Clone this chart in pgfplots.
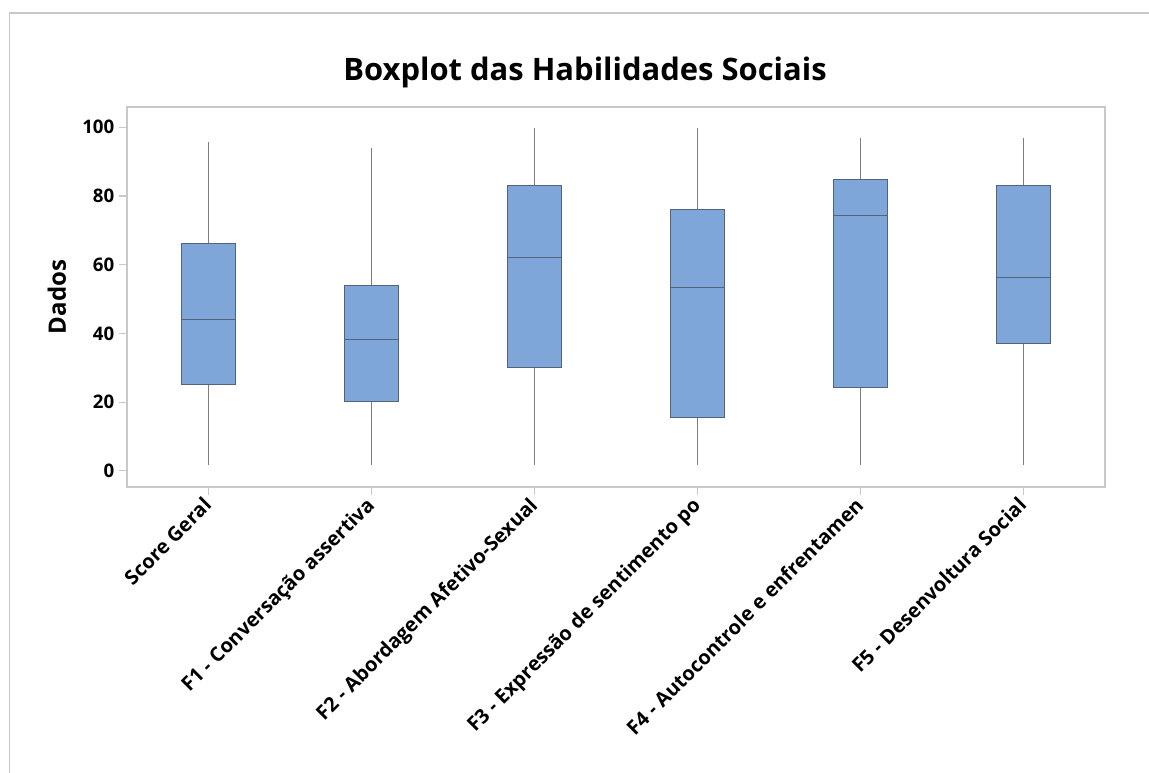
\documentclass[border=0pt]{standalone}
\usepackage{fontspec}
\setmainfont{Open Sans}
\usepackage{pgfplots}
\pgfplotsset{compat=1.18}
\usepgfplotslibrary{statistics}

\definecolor{boxfill}{RGB}{126,166,216}
\definecolor{boxedge}{RGB}{84,98,122}
\definecolor{whisk}{RGB}{125,125,125}
\definecolor{framegray}{RGB}{200,200,200}

\begin{document}
\begin{tikzpicture}
\begin{scope}[x=0.75pt,y=0.75pt]
\useasboundingbox (0,0) rectangle (1149,773);
% outer frame of the graph window
\draw[framegray, line width=0.9pt] (9.5,0) -- (9.5,760) -- (1149,760);
% title
\node[font=\bfseries\fontsize{23.2}{28}\selectfont, anchor=center] at (585,701) {Boxplot das Habilidades Sociais};
\end{scope}

\begin{axis}[
  at={(95.25pt,214.5pt)}, anchor=south west,
  width=733.5pt, height=285pt, scale only axis,
  xmin=0.5, xmax=6.5, ymin=-4.7, ymax=105.9,
  axis line style={draw=framegray, line width=0.9pt},
  tick style={draw=framegray, line width=0.9pt},
  tick align=outside, major tick length=6pt,
  xtick pos=left, ytick pos=left,
  xtick={1,2,3,4,5,6},
  xticklabels={Score Geral, F1 - Conversação assertiva, F2 - Abordagem Afetivo-Sexual, F3 - Expressão de sentimento po, F4 - Autocontrole e enfrentamen, F5 - Desenvoltura Social},
  ytick={0,20,40,60,80,100},
  /pgf/number format/assume math mode=true,
  x tick label style={xshift=-5pt, yshift=1pt, rotate=45, anchor=north east, inner sep=1pt, font=\bfseries\fontsize{15}{17}\selectfont},
  y tick label style={font=\bfseries\fontsize{14}{16}\selectfont},
  ylabel={Dados},
  every axis y label/.style={at={(axis description cs:-0.0716,0.5)}, rotate=90, anchor=center, font=\bfseries\fontsize{18}{22}\selectfont},
  boxplot/draw direction=y,
  boxplot/box extend=0.33,
  boxplot/whisker extend=0,
  boxplot/every whisker/.style={draw=whisk, line width=0.75pt},
  boxplot/every median/.style={draw=boxedge, line width=0.75pt},
  every axis plot/.append style={fill=boxfill, draw=boxedge, line width=0.75pt, solid},
]
\addplot[boxplot prepared={draw position=1, lower whisker=1.6, lower quartile=25.0, median=44.1, upper quartile=66.2, upper whisker=95.8}] coordinates {};
\addplot[boxplot prepared={draw position=2, lower whisker=1.8, lower quartile=20.3, median=38.3, upper quartile=54.0, upper whisker=94.1}] coordinates {};
\addplot[boxplot prepared={draw position=3, lower whisker=1.8, lower quartile=30.2, median=62.2, upper quartile=83.0, upper whisker=99.7}] coordinates {};
\addplot[boxplot prepared={draw position=4, lower whisker=1.8, lower quartile=15.6, median=53.4, upper quartile=76.1, upper whisker=99.7}] coordinates {};
\addplot[boxplot prepared={draw position=5, lower whisker=1.8, lower quartile=24.3, median=74.4, upper quartile=84.9, upper whisker=97.0}] coordinates {};
\addplot[boxplot prepared={draw position=6, lower whisker=1.8, lower quartile=37.1, median=56.4, upper quartile=83.1, upper whisker=97.0}] coordinates {};
\end{axis}
\end{tikzpicture}
\end{document}
